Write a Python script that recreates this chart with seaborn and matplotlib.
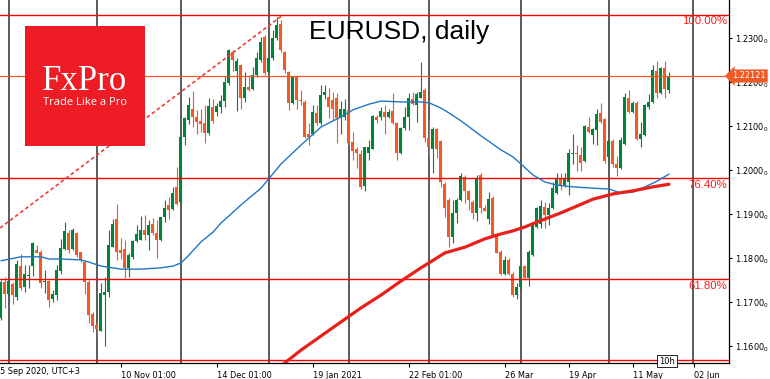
import numpy as np
import pandas as pd
import matplotlib
matplotlib.use("Agg")
import matplotlib.pyplot as plt
from matplotlib.patches import Rectangle
import seaborn as sns

# ---------------- data ----------------
opens = [1.1662, 1.1745, 1.1717, 1.1740, 1.1711, 1.1781, 1.1733, 1.1758, 1.1781, 1.1817,
         1.1813, 1.1744, 1.1747, 1.1706, 1.1715, 1.1770, 1.1819, 1.1857, 1.1820, 1.1857,
         1.1812, 1.1791, 1.1745, 1.1673, 1.1647, 1.1633, 1.1715, 1.1723, 1.1825, 1.1889,
         1.1817, 1.1819, 1.1776, 1.1801, 1.1839, 1.1841, 1.1864, 1.1851, 1.1876, 1.1855,
         1.1840, 1.1893, 1.1919, 1.1910, 1.1961, 1.1927, 1.2075, 1.2114, 1.2139, 1.2120,
         1.2111, 1.2105, 1.2083, 1.2142, 1.2132, 1.2143, 1.2155, 1.2196, 1.2268, 1.2224,
         1.2238, 1.2162, 1.2189, 1.2183, 1.2215, 1.2249, 1.2302, 1.2223, 1.2253, 1.2299,
         1.2330, 1.2268, 1.2223, 1.2151, 1.2211, 1.2158, 1.2154, 1.2082, 1.2082, 1.2128,
         1.2105, 1.2170, 1.2166, 1.2158, 1.2164, 1.2117, 1.2119, 1.2136, 1.2064, 1.2046,
         1.2035, 1.1963, 1.2039, 1.2048, 1.2119, 1.2119, 1.2132, 1.2120, 1.2134, 1.2107,
         1.2039, 1.2094, 1.2120, 1.2160, 1.2147, 1.2164, 1.2181, 1.2071, 1.2048, 1.2092,
         1.2066, 1.1967, 1.1931, 1.1846, 1.1901, 1.1931, 1.1983, 1.1952, 1.1927, 1.1901,
         1.1988, 1.1914, 1.1887, 1.1935, 1.1852, 1.1814, 1.1764, 1.1795, 1.1764, 1.1715,
         1.1733, 1.1780, 1.1753, 1.1806, 1.1870, 1.1877, 1.1916, 1.1897, 1.1912, 1.1948,
         1.1982, 1.1965, 1.1973, 1.2035, 1.2037, 1.2033, 1.2020, 1.2096, 1.2079, 1.2090,
         1.2128, 1.2115, 1.2028, 1.2066, 1.2013, 1.2003, 1.2058, 1.2162, 1.2130, 1.2151,
         1.2069, 1.2079, 1.2142, 1.2154, 1.2225, 1.2174, 1.2230, 1.2181]
highs = [1.1749, 1.1757, 1.1755, 1.1745, 1.1795, 1.1808, 1.1783, 1.1783, 1.1836, 1.1829,
         1.1817, 1.1772, 1.1749, 1.1726, 1.1783, 1.1843, 1.1881, 1.1864, 1.1867, 1.1859,
         1.1814, 1.1795, 1.1749, 1.1677, 1.1651, 1.1742, 1.1757, 1.1863, 1.1889, 1.1922,
         1.1844, 1.1840, 1.1810, 1.1840, 1.1874, 1.1895, 1.1897, 1.1886, 1.1891, 1.1886,
         1.1893, 1.1931, 1.1938, 1.1961, 1.2007, 1.2077, 1.2120, 1.2166, 1.2179, 1.2136,
         1.2139, 1.2147, 1.2162, 1.2160, 1.2152, 1.2170, 1.2213, 1.2274, 1.2273, 1.2253,
         1.2240, 1.2223, 1.2215, 1.2234, 1.2268, 1.2302, 1.2306, 1.2314, 1.2318, 1.2348,
         1.2340, 1.2270, 1.2224, 1.2214, 1.2214, 1.2181, 1.2158, 1.2105, 1.2147, 1.2147,
         1.2192, 1.2192, 1.2185, 1.2177, 1.2174, 1.2157, 1.2160, 1.2136, 1.2086, 1.2052,
         1.2045, 1.2051, 1.2067, 1.2124, 1.2124, 1.2143, 1.2147, 1.2137, 1.2174, 1.2109,
         1.2098, 1.2143, 1.2174, 1.2177, 1.2177, 1.2245, 1.2185, 1.2113, 1.2098, 1.2094,
         1.2067, 1.1973, 1.1935, 1.1931, 1.1935, 1.1992, 1.1988, 1.1954, 1.1931, 1.1988,
         1.1992, 1.1920, 1.1950, 1.1940, 1.1855, 1.1817, 1.1804, 1.1799, 1.1768, 1.1742,
         1.1783, 1.1783, 1.1817, 1.1878, 1.1916, 1.1931, 1.1927, 1.1924, 1.1973, 1.1992,
         1.1992, 1.1992, 1.2048, 1.2081, 1.2056, 1.2051, 1.2102, 1.2120, 1.2094, 1.2137,
         1.2151, 1.2117, 1.2067, 1.2069, 1.2030, 1.2074, 1.2175, 1.2181, 1.2155, 1.2155,
         1.2109, 1.2149, 1.2173, 1.2238, 1.2246, 1.2233, 1.2246, 1.2221]
lows = [1.1658, 1.1685, 1.1696, 1.1695, 1.1704, 1.1727, 1.1723, 1.1730, 1.1758, 1.1810,
        1.1730, 1.1719, 1.1689, 1.1700, 1.1704, 1.1763, 1.1817, 1.1811, 1.1817, 1.1802,
        1.1791, 1.1717, 1.1651, 1.1632, 1.1620, 1.1633, 1.1599, 1.1711, 1.1825, 1.1795,
        1.1796, 1.1753, 1.1757, 1.1798, 1.1836, 1.1840, 1.1840, 1.1817, 1.1851, 1.1800,
        1.1838, 1.1882, 1.1889, 1.1908, 1.1919, 1.1923, 1.2056, 1.2103, 1.2098, 1.2082,
        1.2086, 1.2060, 1.2079, 1.2105, 1.2122, 1.2128, 1.2142, 1.2192, 1.2225, 1.2133,
        1.2139, 1.2154, 1.2179, 1.2181, 1.2211, 1.2245, 1.2215, 1.2221, 1.2249, 1.2295,
        1.2268, 1.2219, 1.2136, 1.2149, 1.2139, 1.2147, 1.2071, 1.2056, 1.2079, 1.2101,
        1.2101, 1.2161, 1.2117, 1.2113, 1.2060, 1.2082, 1.2113, 1.2054, 1.2022, 1.2003,
        1.1957, 1.1952, 1.2022, 1.2046, 1.2105, 1.2114, 1.2081, 1.2117, 1.2104, 1.2022,
        1.2035, 1.2090, 1.2090, 1.2147, 1.2109, 1.2162, 1.2063, 1.2028, 1.1992, 1.2026,
        1.1961, 1.1893, 1.1825, 1.1834, 1.1878, 1.1929, 1.1924, 1.1908, 1.1889, 1.1884,
        1.1901, 1.1905, 1.1876, 1.1849, 1.1810, 1.1761, 1.1761, 1.1761, 1.1711, 1.1707,
        1.1727, 1.1749, 1.1736, 1.1804, 1.1867, 1.1867, 1.1867, 1.1874, 1.1910, 1.1945,
        1.1954, 1.1961, 1.1942, 1.2014, 1.1998, 1.1998, 1.2018, 1.2084, 1.2058, 1.2056,
        1.2107, 1.2016, 1.2016, 1.2005, 1.1985, 1.2001, 1.2056, 1.2128, 1.2128, 1.2067,
        1.2052, 1.2077, 1.2139, 1.2152, 1.2162, 1.2172, 1.2162, 1.2174]
closes = [1.1745, 1.1717, 1.1748, 1.1715, 1.1786, 1.1732, 1.1763, 1.1761, 1.1834, 1.1811,
          1.1743, 1.1746, 1.1704, 1.1717, 1.1772, 1.1822, 1.1861, 1.1817, 1.1863, 1.1806,
          1.1795, 1.1745, 1.1670, 1.1645, 1.1638, 1.1719, 1.1723, 1.1829, 1.1877, 1.1813,
          1.1810, 1.1776, 1.1806, 1.1838, 1.1854, 1.1863, 1.1851, 1.1874, 1.1856, 1.1840,
          1.1893, 1.1912, 1.1908, 1.1946, 1.1923, 1.2075, 1.2117, 1.2147, 1.2120, 1.2109,
          1.2104, 1.2083, 1.2145, 1.2111, 1.2145, 1.2157, 1.2200, 1.2272, 1.2250, 1.2247,
          1.2162, 1.2189, 1.2181, 1.2215, 1.2253, 1.2291, 1.2219, 1.2253, 1.2299, 1.2329,
          1.2272, 1.2226, 1.2151, 1.2211, 1.2158, 1.2156, 1.2075, 1.2075, 1.2132, 1.2105,
          1.2170, 1.2176, 1.2143, 1.2139, 1.2117, 1.2137, 1.2139, 1.2060, 1.2043, 1.2037,
          1.1960, 1.2051, 1.2051, 1.2122, 1.2114, 1.2134, 1.2120, 1.2132, 1.2105, 1.2039,
          1.2094, 1.2120, 1.2162, 1.2149, 1.2173, 1.2177, 1.2071, 1.2051, 1.2092, 1.2046,
          1.1973, 1.1912, 1.1846, 1.1901, 1.1931, 1.1986, 1.1952, 1.1931, 1.1901, 1.1980,
          1.1914, 1.1905, 1.1933, 1.1852, 1.1811, 1.1764, 1.1795, 1.1764, 1.1715, 1.1733,
          1.1780, 1.1753, 1.1814, 1.1877, 1.1912, 1.1917, 1.1897, 1.1912, 1.1958, 1.1980,
          1.1965, 1.1982, 1.2037, 1.2037, 1.2035, 1.2016, 1.2099, 1.2086, 1.2092, 1.2126,
          1.2109, 1.2020, 1.2066, 1.2014, 1.2003, 1.2068, 1.2166, 1.2130, 1.2152, 1.2069,
          1.2081, 1.2147, 1.2154, 1.2227, 1.2175, 1.2230, 1.2183, 1.2212]

# moving averages, read at sample bars
ma50_idx = [0, 5, 10, 12, 15, 20, 22, 25, 30, 35, 40, 43, 45, 47, 50, 53, 55, 57, 60, 65,
            70, 75, 80, 85, 88, 92, 95, 100, 105, 107, 110, 112, 115, 120, 125, 128, 130,
            133, 136, 139, 143, 148, 152, 155, 158, 161, 164, 167]
ma50_val = [1.1793, 1.1802, 1.1802, 1.1797, 1.1797, 1.1795, 1.1790, 1.1781, 1.1774, 1.1774,
            1.1777, 1.1781, 1.1788, 1.1806, 1.1836, 1.1858, 1.1879, 1.1895, 1.1920, 1.1958,
            1.2013, 1.2056, 1.2097, 1.2120, 1.2136, 1.2149, 1.2156, 1.2154, 1.2154, 1.2152,
            1.2140, 1.2129, 1.2111, 1.2077, 1.2045, 1.2029, 1.2013, 1.1988, 1.1972, 1.1965,
            1.1961, 1.1958, 1.1956, 1.1947, 1.1949, 1.1961, 1.1974, 1.1990]
ma200_idx = [70, 75, 80, 85, 90, 95, 100, 105, 111, 116, 121, 125, 128, 131, 134, 140, 148,
             153, 158, 163, 167]
ma200_val = [1.1554, 1.1590, 1.1622, 1.1654, 1.1686, 1.1715, 1.1747, 1.1777, 1.1811, 1.1824,
             1.1843, 1.1854, 1.1861, 1.1870, 1.1881, 1.1902, 1.1933, 1.1945, 1.1952, 1.1961,
             1.1967]

fib_levels = [1.23516, 1.19811, 1.17509, 1.15668]
fib_labels = ["100.00%", "76.40%", "61.80%", ""]
trend_idx = [-0.25, 70.5]
trend_val = [1.18675, 1.23516]
last_price = 1.22121

month_start_idx = [2, 24, 45, 67, 87, 107, 130, 152, 173]
date_tick_idx = [30, 54, 78, 102, 126, 142, 158, 173.3]
date_tick_labels = ["10 Nov 01:00", "14 Dec 01:00", "19 Jan 2021", "22 Feb 01:00",
                    "26 Mar", "19 Apr", "11 May", "02 Jun"]
first_date_label = "25 Sep 2020, UTC+3"
price_ticks = [1.16, 1.17, 1.18, 1.19, 1.20, 1.21, 1.22, 1.23]

# ---------------- figure ----------------
sns.set_theme(style="white")
plt.rcParams["font.family"] = ["DejaVu Sans"]

W, H = 770, 379
fig = plt.figure(figsize=(W / 100, H / 100), dpi=100)
fig.patch.set_facecolor("white")
ax = fig.add_axes([0, 16 / H, 729 / W, 363 / H])
ax.set_facecolor("white")

GREEN = "#00843d"
ORANGE = "#f15a24"

df = pd.DataFrame({"o": opens, "h": highs, "l": lows, "c": closes})
df["i"] = np.arange(len(df))
df["up"] = df["c"] >= df["o"]
colors = np.where(df["up"], GREEN, ORANGE)

# month separators
for m in month_start_idx:
    ax.axvline(m, color="#5a5a5a", lw=1.4, zorder=1)

# candles
ax.vlines(df["i"], df["l"], df["h"], colors=colors, lw=0.8, zorder=3)
body_lo = np.minimum(df["o"], df["c"])
body_h = np.maximum((df["c"] - df["o"]).abs(), 0.00024)
ax.bar(df["i"], body_h, bottom=body_lo, width=0.75, color=colors, linewidth=0, zorder=3)

# fib levels & price line
for lv in fib_levels:
    ax.axhline(lv, color="#ff0000", lw=1.0, zorder=4)
ax.axhline(last_price, color=ORANGE, lw=0.9, zorder=4)

# moving averages
sns.lineplot(x=ma50_idx, y=ma50_val, ax=ax, color="#1f77c4", lw=1.0, zorder=5)
sns.lineplot(x=ma200_idx, y=ma200_val, ax=ax, color="#e8201a", lw=2.3, zorder=5)
ax.plot(trend_idx, trend_val, color="#f03c3c", lw=1.2, linestyle=(0, (2.2, 1.6)), zorder=5)

ax.set_xlim(-0.25, 182)
ax.set_ylim(1.238568 - 363 / 4400, 1.238568)
ax.set_xlabel("")
ax.set_ylabel("")

# axes styling
for s in ["left", "top"]:
    ax.spines[s].set_visible(False)
for s in ["right", "bottom"]:
    ax.spines[s].set_color("black")
    ax.spines[s].set_linewidth(0.9)

ax.yaxis.tick_right()
ax.set_yticks(price_ticks)
ax.set_yticklabels([f"{p:.4f}$_0$" for p in price_ticks])
ax.tick_params(axis="y", direction="out", length=2.5, width=0.8, pad=1.5,
               labelsize=5.9, colors="black", right=True, left=False)
ax.set_xticks(date_tick_idx)
ax.set_xticklabels(date_tick_labels, ha="left")
ax.tick_params(axis="x", direction="out", length=3, width=0.8, pad=2.5,
               labelsize=5.9, colors="black", bottom=True)
ax.grid(False)

fig.text(-5 / W, 1 - 367 / H, first_date_label, ha="left", va="top", fontsize=5.9,
         color="black")

# fib labels
for lv, lab in zip(fib_levels, fib_labels):
    if lab:
        ax.annotate(lab, xy=(727 / 729, lv), xycoords=("axes fraction", "data"),
                    xytext=(0, -1.5), textcoords="offset pixels", ha="right", va="top",
                    fontsize=8.2, color="#ff1a1a", family="Liberation Sans", zorder=6)

# price badge
fig.text(732 / W, 1 - 76 / H, f"{last_price:.5f}", ha="left", va="center", fontsize=5.9,
         color="white", bbox=dict(boxstyle="larrow,pad=0.25", fc=ORANGE, ec="none"))

# title
fig.text(309 / W, 1 - 39 / H, "EURUSD, daily", ha="left", va="baseline", fontsize=19,
         family="Liberation Sans", color="black")

# logo
fig.patches.append(Rectangle((25 / W, 1 - 146 / H), 120 / W, 120 / H,
                             transform=fig.transFigure, fc="#ee1c25", ec="none", zorder=10))
fig.text(85 / W, 1 - 90 / H, "FxPro", ha="center", va="baseline", fontsize=25,
         family="Liberation Serif", color="white", zorder=11)
fig.text(85 / W, 1 - 105 / H, "Trade Like a Pro", ha="center", va="baseline", fontsize=8.0,
         family="Open Sans", color="white", zorder=11)

# bar timer box
fig.text(667 / W, 1 - 361 / H, "10h", ha="center", va="center", fontsize=6,
         color="black", bbox=dict(boxstyle="square,pad=0.2", fc="white", ec="black", lw=0.6),
         zorder=12)

fig.savefig("out.png", dpi=100)
